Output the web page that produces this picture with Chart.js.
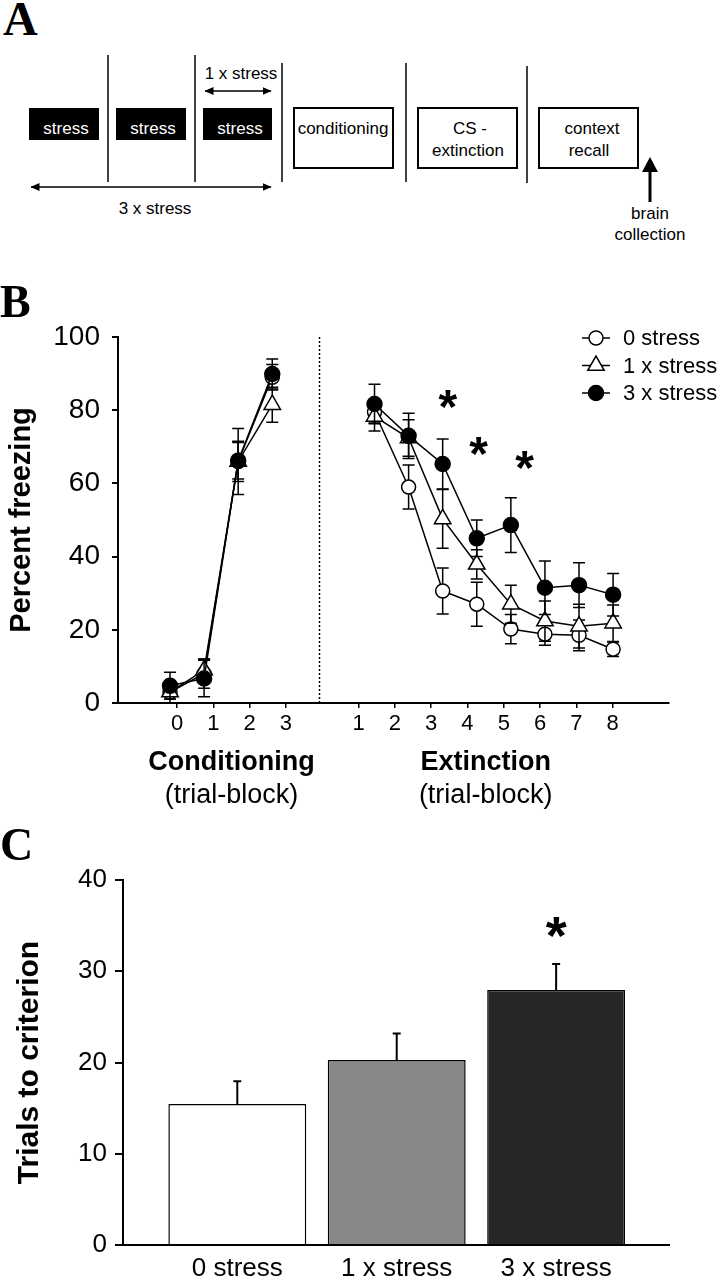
<!DOCTYPE html>
<html>
<head>
<meta charset="utf-8">
<title>Stress and fear extinction</title>
<script src="https://cdn.jsdelivr.net/npm/chart.js@4.4.1/dist/chart.umd.min.js"></script>
<style>
  html, body { margin: 0; padding: 0; background: #fff; }
  #page { position: relative; width: 719px; height: 1280px; overflow: hidden; background: #fff; }
  #panelA { position: absolute; left: 0; top: 0; }
  #panelB { position: absolute; left: 0; top: 270px; }
  #panelC { position: absolute; left: 0; top: 820px; }
</style>
</head>
<body>
<div id="page">
<svg id="panelA" width="719" height="260" xmlns="http://www.w3.org/2000/svg">
  <defs>
    <marker id="head" markerWidth="9" markerHeight="8" refX="8.5" refY="4" orient="auto-start-reverse" markerUnits="userSpaceOnUse">
      <path d="M0,0 L9,4 L0,8 z" fill="#000"/>
    </marker>
  </defs>
  <text x="3" y="35" font-family="'Liberation Serif', 'Times New Roman', serif" font-weight="bold" font-size="48">A</text>
  <g font-family="'Liberation Sans', Arial, sans-serif" font-size="17" text-anchor="middle" dominant-baseline="central">
    <rect x="29" y="108" width="70" height="32" fill="#000"/>
    <rect x="116" y="108" width="70" height="32" fill="#000"/>
    <rect x="203" y="108" width="69" height="32" fill="#000"/>
    <text x="66" y="128" fill="#fff">stress</text>
    <text x="153" y="128" fill="#fff">stress</text>
    <text x="240" y="128" fill="#fff">stress</text>

    <g stroke="#000" stroke-width="1.5">
      <line x1="108" y1="55" x2="108" y2="182"/>
      <line x1="195" y1="55" x2="195" y2="182"/>
      <line x1="282" y1="63" x2="282" y2="182"/>
      <line x1="406" y1="63" x2="406" y2="182"/>
      <line x1="527" y1="66" x2="527" y2="183"/>
    </g>

    <g fill="#fff" stroke="#000" stroke-width="2">
      <rect x="294" y="108" width="99" height="60"/>
      <rect x="418" y="108" width="99" height="60"/>
      <rect x="539" y="108" width="99" height="60"/>
    </g>
    <text x="343" y="128">conditioning</text>
    <text x="470" y="128">CS -</text>
    <text x="468" y="150">extinction</text>
    <text x="592" y="128">context</text>
    <text x="589" y="150">recall</text>

    <text x="241" y="73">1 x stress</text>
    <line x1="205" y1="91" x2="271" y2="91" stroke="#000" stroke-width="1.5" marker-start="url(#head)" marker-end="url(#head)"/>
    <line x1="31" y1="187" x2="271" y2="187" stroke="#000" stroke-width="1.5" marker-start="url(#head)" marker-end="url(#head)"/>
    <text x="155" y="208">3 x stress</text>

    <line x1="650" y1="202" x2="650" y2="170" stroke="#000" stroke-width="3"/>
    <path d="M642,172 L658,172 L650,157 z" fill="#000"/>
    <text x="650" y="213">brain</text>
    <text x="650" y="234">collection</text>
  </g>
</svg>
<canvas id="panelB" width="719" height="550"></canvas>
<canvas id="panelC" width="719" height="460"></canvas>
</div>

<script>
// ---- data ----
const condBlocks = ['0', '1', '2', '3'];
const extBlocks = ['1', '2', '3', '4', '5', '6', '7', '8'];
const seriesNames = ['0 stress', '1 x stress', '3 x stress'];

// percent freezing (mean) and SEM, conditioning trial-blocks
const cond0 = [3, 8, 66, 89];
const cond0Sem = [2, 4, 5.5, 3.5];
const cond1 = [3, 9, 66, 81.5];
const cond1Sem = [3, 3, 9, 4.8];
const cond3 = [4.7, 6.7, 66.2, 89.9];
const cond3Sem = [3.7, 5, 5, 4.1];

// percent freezing (mean) and SEM, extinction trial-blocks
const ext0 = [79.5, 59, 30.6, 27, 20.2, 18.8, 18.5, 14.7];
const ext0Sem = [3, 6, 6.3, 6, 4, 3, 4.2, 2];
const ext1 = [78.3, 72.4, 50.3, 37.9, 27, 22.4, 21, 21.8];
const ext1Sem = [4, 5, 8, 4, 5.2, 5.5, 6, 5];
const ext3 = [81.7, 73, 65.3, 45, 48.6, 31.5, 32.2, 29.6];
const ext3Sem = [5.4, 6.2, 6.8, 5, 7.5, 7.3, 6.1, 5.8];

// significance marks over extinction blocks
const starBlocks = [3.15, 4.05, 5.4];
const starLevels = [83.6, 71, 67];

// trials to criterion
const groups = ['0 stress', '1 x stress', '3 x stress'];
const trials = [15.45, 20.27, 27.95];
const trialsSem = [2.5, 2.9, 2.85];
const trialsStars = [null, null, 35.1];

// ---- helpers ----
const sans = "'Liberation Sans', Arial, sans-serif";
const serif = "'Liberation Serif', 'Times New Roman', serif";
const EXT_SHIFT = 5;   // extinction block j is plotted at j + 5 on the point axis
const TICK_SHIFT = 4;  // extinction tick j sits at j + 4 on the tick axis

function series(cond, ext) {
  return cond.map((v, i) => ({x: i, y: v}))
    .concat([{x: cond.length, y: null}])
    .concat(ext.map((v, j) => ({x: j + 1 + EXT_SHIFT, y: v})));
}

function semSeries(cond, ext) {
  return cond.concat([null]).concat(ext);
}

function marker(ctx, style, x, y, r, fill) {
  ctx.beginPath();
  if (style === 'triangle') {
    for (let k = 0; k < 3; k++) {
      const a = k * 2 * Math.PI / 3;
      const px = x + Math.sin(a) * r, py = y - Math.cos(a) * r;
      if (k === 0) ctx.moveTo(px, py); else ctx.lineTo(px, py);
    }
    ctx.closePath();
  } else {
    ctx.arc(x, y, r, 0, Math.PI * 2);
  }
  ctx.fillStyle = fill;
  ctx.fill();
  ctx.stroke();
}

function drawStar(ctx, x, y, size) {
  ctx.save();
  ctx.fillStyle = '#000';
  ctx.font = 'bold ' + size + 'px ' + sans;
  ctx.textAlign = 'center';
  ctx.textBaseline = 'alphabetic';
  ctx.fillText('*', x, y + size * 0.55);
  ctx.restore();
}

const errorBars = {
  id: 'errorBars',
  beforeDatasetDraw(chart, args) {
    const ds = chart.data.datasets[args.index];
    if (!ds.sem) return;
    const ys = chart.scales[args.meta.yAxisID];
    const ctx = chart.ctx;
    ctx.save();
    ctx.strokeStyle = '#000';
    ctx.lineWidth = ds.errWidth || 1.5;
    args.meta.data.forEach((el, i) => {
      const raw = ds.data[i];
      const s = ds.sem[i];
      if (raw.y == null || s == null) return;
      const cap = ds.capHalf || 6;
      const top = ys.getPixelForValue(raw.y + s);
      const bot = ys.getPixelForValue(ds.upOnly ? raw.y : raw.y - s);
      ctx.beginPath();
      ctx.moveTo(el.x, top);
      ctx.lineTo(el.x, bot);
      ctx.moveTo(el.x - cap, top);
      ctx.lineTo(el.x + cap, top);
      if (!ds.upOnly) {
        ctx.moveTo(el.x - cap, bot);
        ctx.lineTo(el.x + cap, bot);
      }
      ctx.stroke();
    });
    ctx.restore();
  }
};

function panelLetter(letter, baseline) {
  return {
    id: 'letter' + letter,
    afterDraw(chart) {
      const ctx = chart.ctx;
      ctx.save();
      ctx.fillStyle = '#000';
      ctx.font = 'bold 46px ' + serif;
      ctx.textBaseline = 'alphabetic';
      ctx.fillText(letter, 0, baseline);
      ctx.restore();
    }
  };
}

// ---- panel B ----
const tickValues = condBlocks.map((_, i) => i).concat(extBlocks.map((_, j) => j + 1 + TICK_SHIFT));
const tickLabels = condBlocks.concat(extBlocks);
const dividerAt = 3.9;

const panelBExtras = {
  id: 'panelBExtras',
  afterDraw(chart) {
    const ctx = chart.ctx;
    const area = chart.chartArea;
    const xt = chart.scales.x;
    const xd = chart.scales.xd;
    const y = chart.scales.y;

    // dotted divider between the two phases
    ctx.save();
    ctx.strokeStyle = '#000';
    ctx.lineWidth = 1.5;
    ctx.setLineDash([2, 2]);
    const dx = Math.round(xt.getPixelForValue(dividerAt)) + 0.5;
    ctx.beginPath();
    ctx.moveTo(dx, area.top);
    ctx.lineTo(dx, area.bottom);
    ctx.stroke();
    ctx.restore();

    // phase titles under the axis
    const condMid = (xt.getPixelForValue(tickValues[0]) + xt.getPixelForValue(tickValues[condBlocks.length - 1])) / 2;
    const extMid = (xt.getPixelForValue(tickValues[condBlocks.length]) + xt.getPixelForValue(tickValues[tickValues.length - 1])) / 2;
    ctx.save();
    ctx.fillStyle = '#000';
    ctx.textAlign = 'center';
    ctx.textBaseline = 'middle';
    ctx.font = 'bold 27px ' + sans;
    ctx.fillText('Conditioning', condMid, area.bottom + 60);
    ctx.fillText('Extinction', extMid, area.bottom + 60);
    ctx.font = '27px ' + sans;
    ctx.fillText('(trial-block)', condMid, area.bottom + 93);
    ctx.fillText('(trial-block)', extMid, area.bottom + 93);
    ctx.restore();

    // stars
    starBlocks.forEach((b, i) => {
      drawStar(ctx, xd.getPixelForValue(b + EXT_SHIFT), y.getPixelForValue(starLevels[i]), 48);
    });

    // legend
    ctx.save();
    ctx.strokeStyle = '#000';
    ctx.lineWidth = 1.5;
    chart.data.datasets.forEach((ds, i) => {
      const ly = 68 + i * 27.5;
      ctx.beginPath();
      ctx.moveTo(582, ly);
      ctx.lineTo(610, ly);
      ctx.stroke();
      marker(ctx, ds.pointStyle, 596, ly, ds.pointRadius, ds.pointBackgroundColor);
      ctx.fillStyle = '#000';
      ctx.font = '22px ' + sans;
      ctx.textBaseline = 'middle';
      ctx.textAlign = 'left';
      ctx.fillText(ds.label, 623, ly + 1);
    });
    ctx.restore();
  }
};

const lineStyle = {
  showLine: true,
  borderColor: '#000',
  borderWidth: 1.5,
  pointBorderColor: '#000',
  pointBorderWidth: 1.5,
  pointHoverRadius: 0,
  xAxisID: 'xd',
  yAxisID: 'y'
};

new Chart(document.getElementById('panelB'), {
  type: 'scatter',
  data: {
    datasets: [
      Object.assign({}, lineStyle, {
        label: seriesNames[0], data: series(cond0, ext0), sem: semSeries(cond0Sem, ext0Sem),
        pointStyle: 'circle', pointRadius: 7, pointBackgroundColor: '#fff', order: 3
      }),
      Object.assign({}, lineStyle, {
        label: seriesNames[1], data: series(cond1, ext1), sem: semSeries(cond1Sem, ext1Sem),
        pointStyle: 'triangle', pointRadius: 9.5, pointBackgroundColor: '#fff', order: 2
      }),
      Object.assign({}, lineStyle, {
        label: seriesNames[2], data: series(cond3, ext3), sem: semSeries(cond3Sem, ext3Sem),
        pointStyle: 'circle', pointRadius: 7.5, pointBackgroundColor: '#000', order: 1
      })
    ]
  },
  options: {
    responsive: false,
    animation: false,
    devicePixelRatio: 1,
    layout: { padding: { top: 67, right: 50, left: 0, bottom: 0 } },
    plugins: { legend: { display: false }, tooltip: { enabled: false } },
    scales: {
      xd: { type: 'linear', display: false, min: -1.526, max: 14.64 },
      x: {
        type: 'linear',
        position: 'bottom',
        min: -1.625,
        max: 13.55,
        afterBuildTicks: s => { s.ticks = tickValues.map(v => ({value: v})); },
        afterFit: s => { s.height = 117; },
        ticks: {
          autoSkip: false, maxRotation: 0, minRotation: 0, padding: 3, color: '#000',
          font: { family: sans, size: 22 },
          callback: (v, i) => tickLabels[i]
        },
        grid: { drawOnChartArea: false, drawTicks: true, tickLength: 5, color: '#000', lineWidth: 1.5 },
        border: { color: '#000', width: 2 }
      },
      y: {
        min: 0,
        max: 100,
        afterFit: s => { s.width = 118; },
        ticks: { stepSize: 20, padding: 12, color: '#000', font: { family: sans, size: 28 } },
        grid: { drawOnChartArea: false, drawTicks: true, tickLength: 6, color: '#000', lineWidth: 2 },
        border: { color: '#000', width: 2 },
        title: {
          display: true, text: 'Percent freezing', color: '#000',
          font: { family: sans, size: 29, weight: 'bold', lineHeight: 1 },
          padding: { top: 7, bottom: 0 }
        }
      }
    }
  },
  plugins: [errorBars, panelBExtras, panelLetter('B', 47)]
});

// ---- panel C ----
const barFills = ['#ffffff', '#878787', '#262626'];

const panelCExtras = {
  id: 'panelCExtras',
  afterDraw(chart) {
    const xs = chart.scales.x;
    const ys = chart.scales.y;
    trialsStars.forEach((v, i) => {
      if (v == null) return;
      drawStar(chart.ctx, xs.getPixelForValue(i + 1), ys.getPixelForValue(v), 54);
    });
  }
};

new Chart(document.getElementById('panelC'), {
  type: 'bar',
  data: {
    datasets: [{
      data: trials.map((v, i) => ({x: i + 1, y: v})),
      sem: trialsSem,
      upOnly: true,
      capHalf: 4,
      errWidth: 2,
      backgroundColor: barFills,
      borderColor: '#000',
      borderWidth: 1.5,
      barPercentage: 0.865,
      categoryPercentage: 1
    }]
  },
  options: {
    responsive: false,
    animation: false,
    devicePixelRatio: 1,
    layout: { padding: { top: 60, right: 50, left: 0, bottom: 0 } },
    plugins: { legend: { display: false }, tooltip: { enabled: false } },
    scales: {
      x: {
        type: 'linear',
        offset: false,
        min: 0.283,
        max: 3.708,
        afterBuildTicks: s => { s.ticks = groups.map((_, i) => ({value: i + 1})); },
        afterFit: s => { s.height = 35; },
        ticks: {
          autoSkip: false, maxRotation: 0, minRotation: 0, padding: 8, color: '#000',
          font: { family: sans, size: 26 },
          callback: (v, i) => groups[i]
        },
        grid: { offset: false, drawOnChartArea: false, drawTicks: false },
        border: { color: '#000', width: 2 }
      },
      y: {
        min: 0,
        max: 40,
        afterFit: s => { s.width = 123; },
        ticks: { stepSize: 10, padding: 8, color: '#000', font: { family: sans, size: 26 } },
        grid: { drawOnChartArea: false, drawTicks: true, tickLength: 8, color: '#000', lineWidth: 2 },
        border: { color: '#000', width: 2 },
        title: {
          display: true, text: 'Trials to criterion', color: '#000',
          font: { family: sans, size: 30, weight: 'bold', lineHeight: 1 },
          padding: { top: 15, bottom: 0 }
        }
      }
    }
  },
  plugins: [errorBars, panelCExtras, panelLetter('C', 40)]
});
</script>
</body>
</html>
